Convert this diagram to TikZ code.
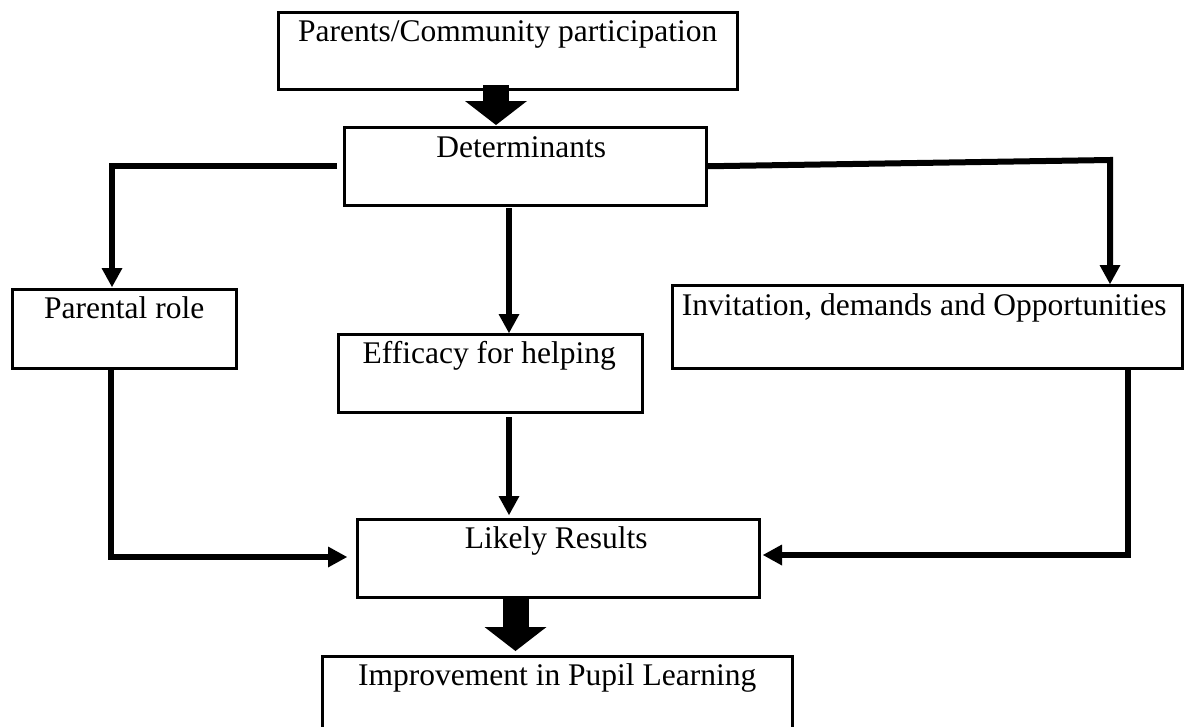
\documentclass[tikz,border=0pt]{standalone}
\usepackage{fontspec}
\setmainfont{Liberation Serif}
\usetikzlibrary{arrows.meta,calc}
\begin{document}
\begin{tikzpicture}[x=1pt,y=-1pt,
  box/.style={draw, line width=2.5pt, rectangle, inner sep=0pt, anchor=north west},
  txt/.style={anchor=base, inner sep=0pt, font=\fontsize{31.5}{38}\selectfont},
  conn/.style={line width=6pt, line join=miter, -{Triangle[width=21pt,length=19pt,line width=0pt]}},
  bigarrow/.style={line width=26pt, -{Triangle[width=62pt,length=24pt,line width=0pt]}}]
\clip (0,0) rectangle (1200,726);
\fill[white] (0,0) rectangle (1200,726);
% boxes
\node[box, minimum width=459pt, minimum height=77pt] (top) at (277,11) {};
\node[txt] (topT) at ($(top.north)+(0,30)$) {Parents/Community participation};
\node[box, minimum width=362pt, minimum height=78pt] (det) at (343,126) {};
\node[txt] (detT) at ($(det.north)+(-4,31)$) {Determinants};
\node[box, minimum width=224pt, minimum height=79pt] (par) at (11,288) {};
\node[txt] (parT) at ($(par.north)+(0,30)$) {Parental role};
\node[box, minimum width=510pt, minimum height=83pt] (inv) at (671,284) {};
\node[txt] (invT) at ($(inv.north)+(-3,31)$) {Invitation, demands and Opportunities};
\node[box, minimum width=304pt, minimum height=78pt] (eff) at (337,333) {};
\node[txt] (effT) at ($(eff.north)+(-1,30)$) {Efficacy for helping};
\node[box, minimum width=402pt, minimum height=78pt] (lik) at (356,518) {};
\node[txt] (likT) at ($(lik.north)+(-2,30)$) {Likely Results};
\node[box, minimum width=470pt, minimum height=90pt] (imp) at (321,655) {};
\node[txt] (impT) at ($(imp.north)+(0,30)$) {Improvement in Pupil Learning};
% block arrows
\coordinate (b1s) at (496,85);
\coordinate (b1e) at (496,125);
\draw[bigarrow] (b1s) -- (b1e);
\coordinate (b2s) at (515.5,598);
\coordinate (b2e) at (515.5,651);
\draw[bigarrow] (b2s) -- (b2e);
% connectors
\coordinate (dl) at (337,166);
\coordinate (pl) at (112,287);
\draw[conn] (dl) -| (pl);
\coordinate (rc) at (1110,160);
\draw[conn] (det.east) -- (rc) -- (rc |- inv.north);
\coordinate (c1) at (509,208);
\draw[conn] (c1) -- (c1 |- eff.north);
\coordinate (pb) at (111,370);
\coordinate (lw) at (347,557);
\draw[conn] (pb) |- (lw);
\coordinate (c2) at (509,417);
\coordinate (c2e) at (509,515);
\draw[conn] (c2) -- (c2e);
\coordinate (ib) at (1128,370);
\coordinate (le) at (763,555);
\draw[conn] (ib) |- (le);
\end{tikzpicture}
\end{document}
